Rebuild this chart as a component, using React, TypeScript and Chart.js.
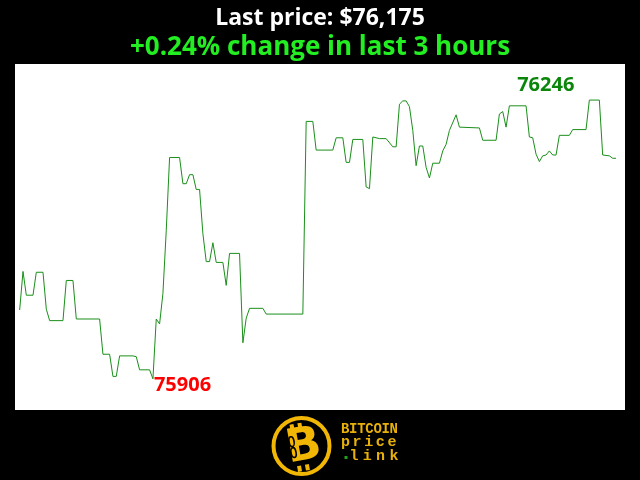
import React, { useEffect, useRef } from "react";
import { Chart, registerables } from "chart.js";

Chart.register(...registerables);

const minutes: number[] = [0,1,2,4,5,7,8,9,13,14,16,17,24,25,27,28,29,30,34,35,36,39,40,41,42,43,44,45,48,49,50,51,52,53,54,55,56,57,58,59,61,62,63,66,67,68,69,73,74,85,86,88,89,94,95,97,98,99,100,103,104,105,106,108,110,112,113,114,115,116,117,118,119,120,121,122,123,124,126,127,128,129,131,132,138,139,143,144,145,146,147,152,153,154,155,156,157,158,159,160,161,162,165,166,170,171,174,175,177,178,179];
const prices: number[] = [75990,76037,76008,76008,76036,76036,75991,75977,75977,76026,76026,75979,75979,75936,75936,75909,75909,75934,75934,75933,75917,75917,75906,75979,75973,76010,76087,76176,76176,76144,76144,76155,76155,76137,76137,76083,76049,76049,76072,76048,76048,76020,76059,76059,75950,75980,75992,75992,75985,75985,76220,76220,76185,76185,76200,76200,76170,76170,76198,76198,76140,76138,76201,76199,76199,76189,76189,76241,76245,76245,76238,76209,76166,76190,76190,76164,76151,76169,76169,76184,76192,76209,76228,76213,76212,76197,76197,76229,76232,76213,76239,76239,76201,76200,76180,76171,76178,76179,76184,76179,76179,76203,76203,76210,76210,76246,76246,76179,76178,76175,76175];

const titleText = "Last price: $76,175";
const subtitleText = "+0.24% change in last 3 hours";
const logoWords: string[] = ["BITCOIN", "price", "link"];

const FONT = "'Open Sans', 'Noto Sans', sans-serif";

const bgPlugin = {
  id: "bg",
  beforeDraw(chart: any) {
    const { ctx, chartArea, width, height } = chart;
    ctx.save();
    ctx.fillStyle = "#000";
    ctx.fillRect(0, 0, width, height);
    ctx.fillStyle = "#fff";
    ctx.fillRect(chartArea.left, chartArea.top, chartArea.right - chartArea.left, chartArea.bottom - chartArea.top);
    ctx.restore();
  },
};

const extremesPlugin = {
  id: "extremes",
  afterDatasetsDraw(chart: any) {
    const { ctx, scales } = chart;
    const x = scales.x, y = scales.y;
    let maxI = 0, minI = 0;
    prices.forEach((p, i) => {
      if (p > prices[maxI]) maxI = i;
      if (p < prices[minI]) minI = i;
    });
    ctx.save();
    ctx.font = `bold 20px ${FONT}`;
    ctx.textBaseline = "alphabetic";
    ctx.fillStyle = "#0a870a";
    ctx.textAlign = "right";
    ctx.fillText(String(prices[maxI]), x.getPixelForValue(minutes[maxI]) - 15, y.getPixelForValue(prices[maxI]) - 9);
    ctx.fillStyle = "#ff0000";
    ctx.textAlign = "left";
    ctx.fillText(String(prices[minI]), x.getPixelForValue(minutes[minI]) + 1, y.getPixelForValue(prices[minI]) + 12);
    ctx.restore();
  },
};

const logoPlugin = {
  id: "logo",
  afterDraw(chart: any) {
    const { ctx } = chart;
    const cx = 301.5, cy = 446;
    const yellow = "#f2b705";
    ctx.save();
    ctx.strokeStyle = yellow;
    ctx.lineWidth = 4;
    ctx.beginPath();
    ctx.arc(cx, cy, 28, 0, Math.PI * 2);
    ctx.stroke();
    ctx.translate(cx, cy);
    ctx.rotate(-0.18);
    ctx.fillStyle = yellow;
    ctx.font = "bold 46px 'DejaVu Sans', sans-serif";
    ctx.textAlign = "center";
    ctx.textBaseline = "middle";
    ctx.fillText("B", 2, 2);
    ctx.fillRect(-8, -23, 4, 6);
    ctx.fillRect(0, -23, 4, 6);
    ctx.fillRect(-8, 19, 4, 6);
    ctx.fillRect(0, 19, 4, 6);
    ctx.strokeStyle = "#000";
    ctx.lineWidth = 1.6;
    ctx.beginPath();
    ctx.ellipse(-9, -6, 2.5, 5, 0, 0, Math.PI * 2);
    ctx.stroke();
    ctx.beginPath();
    ctx.ellipse(-9, 5, 2.5, 5, 0, 0, Math.PI * 2);
    ctx.stroke();
    ctx.restore();

    ctx.save();
    ctx.fillStyle = "#e8b10a";
    ctx.font = "bold 14px 'Liberation Mono', monospace";
    ctx.textBaseline = "alphabetic";
    ctx.textAlign = "left";
    logoWords[0].split("").forEach((c, i) => ctx.fillText(c, 341 + i * 8.1, 433));
    ctx.font = "bold 15px 'Liberation Mono', monospace";
    logoWords[1].split("").forEach((c, i) => ctx.fillText(c, 341 + i * 11.6, 446));
    logoWords[2].split("").forEach((c, i) => ctx.fillText(c, 349.5 + i * 13.3, 460));
    ctx.fillStyle = "#1fa31f";
    ctx.fillRect(344.5, 456, 3, 3);
    ctx.restore();
  },
};

export default function App() {
  const ref = useRef<HTMLCanvasElement>(null);
  useEffect(() => {
    if (!ref.current) return;
    const chart = new Chart(ref.current, {
      type: "line",
      data: {
        datasets: [
          {
            data: minutes.map((m, i) => ({ x: m, y: prices[i] })),
            borderColor: "#1a8f1a",
            borderWidth: 1,
            pointRadius: 0,
            tension: 0,
            fill: false,
          },
        ],
      },
      options: {
        animation: false,
        responsive: false,
        maintainAspectRatio: false,
        layout: { padding: { left: 15, right: 15, top: 0, bottom: 70 } },
        scales: {
          x: { type: "linear", display: false, min: -1.4, max: 181.7 },
          y: { type: "linear", display: false, min: 75868, max: 76290 },
        },
        plugins: {
          legend: { display: false },
          tooltip: { enabled: false },
          title: {
            display: true,
            text: titleText,
            color: "#ffffff",
            font: { family: FONT, size: 23, weight: "bold", lineHeight: 1 },
            padding: { top: 7, bottom: 0 },
          },
          subtitle: {
            display: true,
            text: subtitleText,
            color: "#22ee22",
            font: { family: FONT, size: 26, weight: "bold", lineHeight: 1 },
            padding: { top: 5, bottom: 3 },
          },
        },
      },
      plugins: [bgPlugin, extremesPlugin, logoPlugin],
    });
    return () => chart.destroy();
  }, []);
  return (
    <div style={{ position: "fixed", left: 0, top: 0, width: 640, height: 480, background: "#000" }}>
      <canvas ref={ref} width={640} height={480} style={{ width: 640, height: 480, display: "block" }} />
    </div>
  );
}
